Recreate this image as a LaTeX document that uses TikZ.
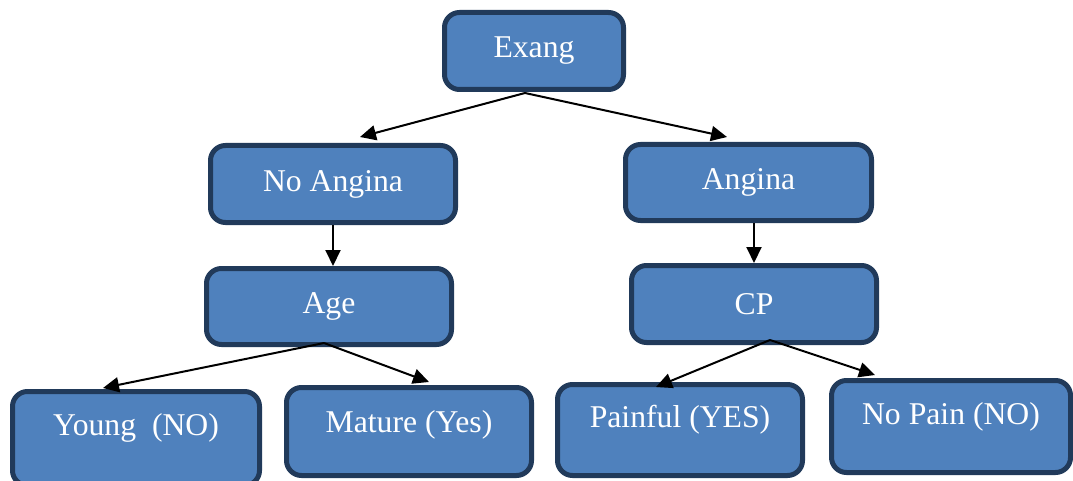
\documentclass[tikz,border=0pt]{standalone}
\usepackage{fontspec}
\setmainfont{Liberation Serif}
\usetikzlibrary{arrows.meta,calc}
\definecolor{boxfill}{HTML}{4F81BD}
\definecolor{boxline}{HTML}{213A5A}
\begin{document}
\begin{tikzpicture}[x=1pt,y=-1pt,
  box/.style={draw=boxline,fill=boxfill,line width=5pt,rounded corners=15pt,
    minimum width=#1,text=white,font=\fontsize{31.7}{38}\selectfont,inner sep=0pt},
  txt/.style={text=white,font=\fontsize{31.7}{38}\selectfont,inner sep=0pt},
  conn/.style={line width=2pt,-{Triangle[length=16pt,width=15pt]}}]
\useasboundingbox (0,0) rectangle (1073,481);
\node[box=179pt,minimum height=77pt] (exang) at (534,51) {Exang};
\node[box=245pt,minimum height=77pt] (noangina) at (333,184) {No Angina};
\node[box=246pt,minimum height=76pt] (angina) at (748.5,182.5) {Angina};
\node[box=245pt,minimum height=76pt] (age) at (329,306.5) {Age};
\node[box=245pt,minimum height=77pt] (cp) at (754,304) {CP};
\node[box=247pt,minimum height=94pt] (young) at (136,438.5) {};
\node[box=245pt,minimum height=88pt] (mature) at (409,431.5) {};
\node[box=245pt,minimum height=91pt] (painful) at (680,430) {};
\node[box=239pt,minimum height=92pt] (nopain) at (951,426.5) {};
\node[txt] (youngt) at ($(young.center)+(0,-11)$) {Young\ \ (NO)};
\node[txt] (maturet) at ($(mature.center)+(0,-7)$) {Mature (Yes)};
\node[txt] (painfult) at ($(painful.center)+(0,-10)$) {Painful (YES)};
\node[txt] (nopaint) at ($(nopain.center)+(0,-10)$) {No Pain (NO)};
\draw[conn] ($(exang.south)+(-9,1)$) -- ($(noangina.north)+(27,-6)$);
\draw[conn] ($(exang.south)+(-9,1)$) -- ($(angina.north)+(-21.5,-5)$);
\draw[conn] (noangina.south) -- (noangina.south |- age.north);
\draw[conn] (cp.north |- angina.south) -- (cp.north);
\draw[conn] ($(age.south)+(-5,-4)$) -- ($(young.north)+(-33,-1)$);
\draw[conn] ($(age.south)+(-5,-4)$) -- ($(mature.north)+(20,-3)$);
\draw[conn] ($(cp.south)+(16,-5)$) -- ($(painful.north)+(-24,5)$);
\draw[conn] ($(cp.south)+(16,-5)$) -- ($(nopain.north)+(-76,-3)$);
\end{tikzpicture}
\end{document}
